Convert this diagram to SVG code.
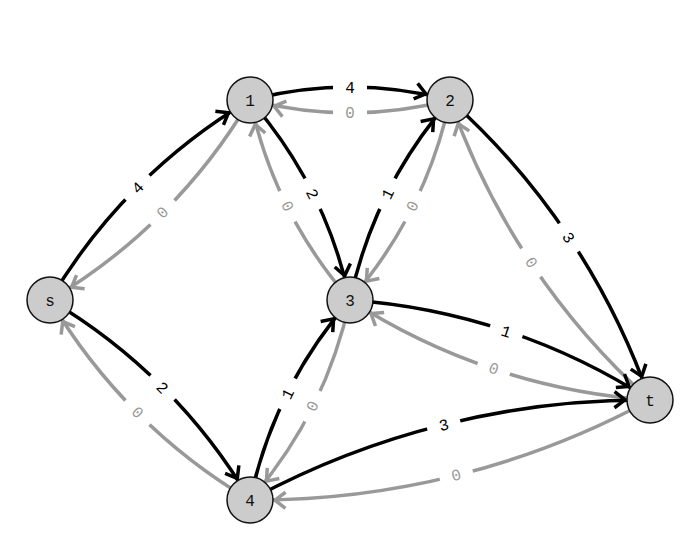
<svg xmlns="http://www.w3.org/2000/svg" width="700" height="550" viewBox="0 0 700 550">
<style>
  .fw{fill:none;stroke:#000;stroke-width:3.5;marker-end:url(#ab)}
  .bw{fill:none;stroke:#999;stroke-width:3.5;marker-end:url(#ag)}
  .bg{fill:#fff}
  .lf{font-family:"Liberation Mono","Courier New",monospace;font-size:16px;text-anchor:middle;fill:#000}
  .lb{font-family:"Liberation Mono","Courier New",monospace;font-size:16px;text-anchor:middle;fill:#999}
  .node circle{fill:#ccc;stroke:#111;stroke-width:1.5}
  .node text{font-family:"Liberation Mono","Courier New",monospace;font-size:16px;text-anchor:middle;fill:#111}
</style>
<defs>
  <marker id="ab" markerUnits="userSpaceOnUse" viewBox="-40 -12 42 24" markerWidth="42" markerHeight="24" refX="0" refY="0" orient="auto" overflow="visible">
    <path d="M-35.5,-8 L-25,0 L-35.5,8" fill="none" stroke="#000" stroke-width="3.5"/>
  </marker>
  <marker id="ag" markerUnits="userSpaceOnUse" viewBox="-40 -12 42 24" markerWidth="42" markerHeight="24" refX="0" refY="0" orient="auto" overflow="visible">
    <path d="M-35.5,-8 L-25,0 L-35.5,8" fill="none" stroke="#999" stroke-width="3.5"/>
  </marker>
</defs>
<g id="connectors">
  <path class="fw" d="M50,300 A565.69,565.69 0 0 1 250,100"/>
  <path class="bw" d="M250,100 A565.69,565.69 0 0 1 50,300"/>
  <path class="fw" d="M50,300 A565.69,565.69 0 0 1 250,500"/>
  <path class="bw" d="M250,500 A565.69,565.69 0 0 1 50,300"/>
  <path class="fw" d="M250,100 A400,400 0 0 1 450,100"/>
  <path class="bw" d="M450,100 A400,400 0 0 1 250,100"/>
  <path class="fw" d="M250,100 A447.21,447.21 0 0 1 350,300"/>
  <path class="bw" d="M350,300 A447.21,447.21 0 0 1 250,100"/>
  <path class="fw" d="M350,300 A447.21,447.21 0 0 1 450,100"/>
  <path class="bw" d="M450,100 A447.21,447.21 0 0 1 350,300"/>
  <path class="fw" d="M450,100 A721.11,721.11 0 0 1 650,400"/>
  <path class="bw" d="M650,400 A721.11,721.11 0 0 1 450,100"/>
  <path class="fw" d="M350,300 A632.46,632.46 0 0 1 650,400"/>
  <path class="bw" d="M650,400 A632.46,632.46 0 0 1 350,300"/>
  <path class="fw" d="M250,500 A447.21,447.21 0 0 1 350,300"/>
  <path class="bw" d="M350,300 A447.21,447.21 0 0 1 250,500"/>
  <path class="fw" d="M250,500 A824.62,824.62 0 0 1 650,400"/>
  <path class="bw" d="M650,400 A824.62,824.62 0 0 1 250,500"/>

  <g transform="translate(137.3,187.3) rotate(-45)"><rect class="bg" x="-17" y="-8" width="34" height="16"/><text class="lf" dy="0.36em">4</text></g>
  <g transform="translate(162.7,212.7) rotate(135)"><rect class="bg" x="-17" y="-8" width="34" height="16"/><text class="lb" dy="0.36em">0</text></g>
  <g transform="translate(162.7,387.3) rotate(45)"><rect class="bg" x="-17" y="-8" width="34" height="16"/><text class="lf" dy="0.36em">2</text></g>
  <g transform="translate(137.3,412.7) rotate(-135)"><rect class="bg" x="-17" y="-8" width="34" height="16"/><text class="lb" dy="0.36em">0</text></g>
  <g transform="translate(350,87.3)"><rect class="bg" x="-17" y="-8" width="34" height="16"/><text class="lf" dy="0.36em">4</text></g>
  <g transform="translate(350,112.7) rotate(180)"><rect class="bg" x="-17" y="-8" width="34" height="16"/><text class="lb" dy="0.36em">0</text></g>
  <g transform="translate(312.7,193.65) rotate(63.43)"><rect class="bg" x="-17" y="-8" width="34" height="16"/><text class="lf" dy="0.36em">2</text></g>
  <g transform="translate(287.3,206.35) rotate(-116.57)"><rect class="bg" x="-17" y="-8" width="34" height="16"/><text class="lb" dy="0.36em">0</text></g>
  <g transform="translate(387.3,193.65) rotate(-63.43)"><rect class="bg" x="-17" y="-8" width="34" height="16"/><text class="lf" dy="0.36em">1</text></g>
  <g transform="translate(412.7,206.35) rotate(116.57)"><rect class="bg" x="-17" y="-8" width="34" height="16"/><text class="lb" dy="0.36em">0</text></g>
  <g transform="translate(569.05,237.3) rotate(56.31)"><rect class="bg" x="-17" y="-8" width="34" height="16"/><text class="lf" dy="0.36em">3</text></g>
  <g transform="translate(530.95,262.7) rotate(-123.69)"><rect class="bg" x="-17" y="-8" width="34" height="16"/><text class="lb" dy="0.36em">0</text></g>
  <g transform="translate(506.35,330.95) rotate(18.43)"><rect class="bg" x="-17" y="-8" width="34" height="16"/><text class="lf" dy="0.36em">1</text></g>
  <g transform="translate(493.65,369.05) rotate(-161.57)"><rect class="bg" x="-17" y="-8" width="34" height="16"/><text class="lb" dy="0.36em">0</text></g>
  <g transform="translate(287.3,393.65) rotate(-63.43)"><rect class="bg" x="-17" y="-8" width="34" height="16"/><text class="lf" dy="0.36em">1</text></g>
  <g transform="translate(312.7,406.35) rotate(116.57)"><rect class="bg" x="-17" y="-8" width="34" height="16"/><text class="lb" dy="0.36em">0</text></g>
  <g transform="translate(443.65,424.6) rotate(-14.04)"><rect class="bg" x="-17" y="-8" width="34" height="16"/><text class="lf" dy="0.36em">3</text></g>
  <g transform="translate(456.35,475.4) rotate(165.96)"><rect class="bg" x="-17" y="-8" width="34" height="16"/><text class="lb" dy="0.36em">0</text></g>
</g>
<g id="node-s" class="node"><circle cx="50" cy="300" r="23"/><text x="50" y="300" dy="0.36em">s</text></g>
<g id="node-1" class="node"><circle cx="250" cy="100" r="23"/><text x="250" y="100" dy="0.36em">1</text></g>
<g id="node-2" class="node"><circle cx="450" cy="100" r="23"/><text x="450" y="100" dy="0.36em">2</text></g>
<g id="node-3" class="node"><circle cx="350" cy="300" r="23"/><text x="350" y="300" dy="0.36em">3</text></g>
<g id="node-4" class="node"><circle cx="250" cy="500" r="23"/><text x="250" y="500" dy="0.36em">4</text></g>
<g id="node-t" class="node"><circle cx="650" cy="400" r="23"/><text x="650" y="400" dy="0.36em">t</text></g>
</svg>
